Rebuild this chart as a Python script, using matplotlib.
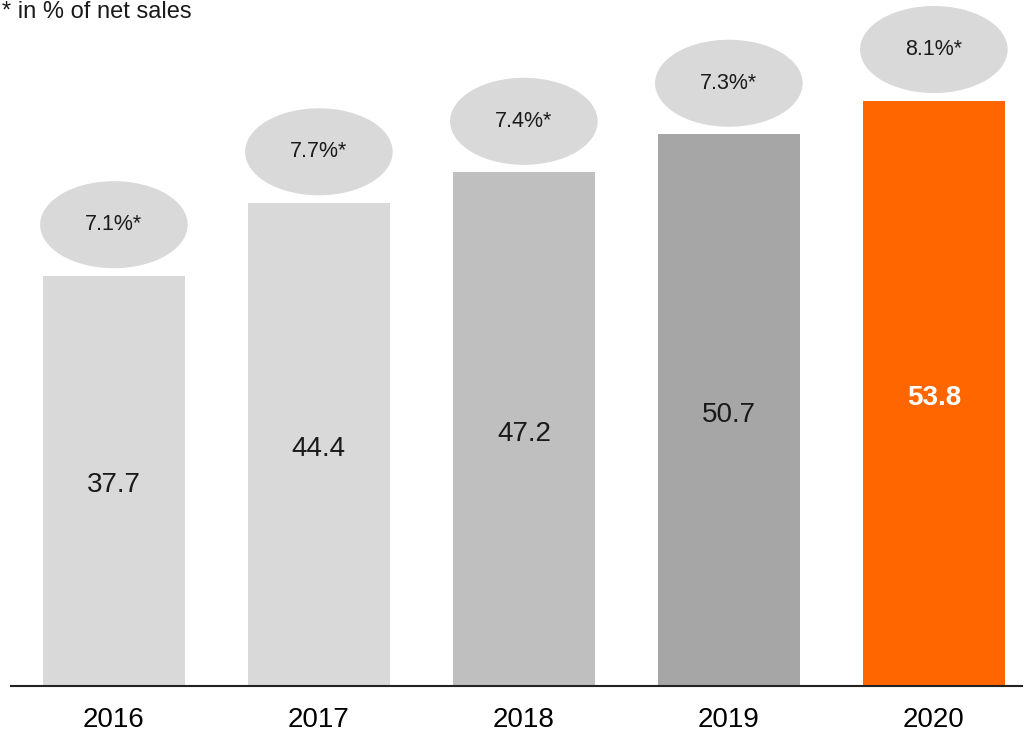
import matplotlib.pyplot as plt
from matplotlib.patches import Ellipse

plt.rcParams['font.family'] = ['Liberation Sans', 'DejaVu Sans']

# --- DATA ---
years = ['2016', '2017', '2018', '2019', '2020']
values = [37.7, 44.4, 47.2, 50.7, 53.8]
shares = ['7.1%*', '7.7%*', '7.4%*', '7.3%*', '8.1%*']
colors = ['#D9D9D9', '#D9D9D9', '#BFBFBF', '#A6A6A6', '#FF6600']
# ------------

W, H = 1025, 733
fig = plt.figure(figsize=(W / 100, H / 100), dpi=100)
ax = fig.add_axes([11 / W, (H - 686) / H, (1022 - 11) / W, 686 / H])

x = list(range(len(years)))
ax.bar(x, values, width=0.69, color=colors, zorder=2)

for i, v in enumerate(values):
    # ellipse bubble with share of net sales
    ax.add_patch(Ellipse((i, v + 4.7), 0.72, 8.0, facecolor='#D9D9D9',
                         edgecolor='none', zorder=3))
    ax.text(i, v + 4.7, shares[i], ha='center', va='center', fontsize=15.5,
            color='#1a1a1a', zorder=4)
    last = (i == len(values) - 1)
    ax.text(i, v / 2 - 0.4, f'{v:.1f}', ha='center', va='center', fontsize=20,
            color='white' if last else '#1a1a1a',
            fontweight='bold' if last else 'normal', zorder=4)

ax.set_xlim(-0.502, 4.43)
ax.set_ylim(0, 686 / 10.88)
ax.set_xticks(x)
ax.set_xticklabels(years, fontsize=20)
ax.tick_params(axis='x', length=0, pad=15)
ax.set_yticks([])
for s in ['top', 'right', 'left']:
    ax.spines[s].set_visible(False)
ax.spines['bottom'].set_linewidth(1.5)
ax.spines['bottom'].set_color('#222222')

fig.text(2 / W, 1 - 18 / H, '* in % of net sales', fontsize=17,
         ha='left', va='baseline', color='#1a1a1a')

plt.savefig('out.png', dpi=100)
